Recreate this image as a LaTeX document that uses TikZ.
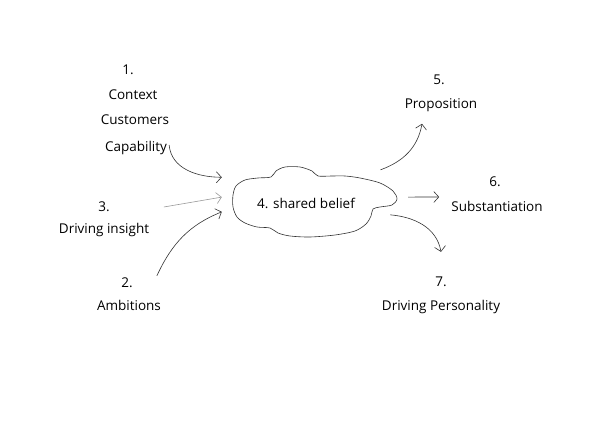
\documentclass[tikz,border=0pt]{standalone}
\usepackage{fontspec}
\setmainfont{Open Sans}
\usetikzlibrary{arrows.meta}
\begin{document}
\begin{tikzpicture}[x=1pt, y=1pt,
    every node/.style={font=\fontsize{13.5}{15}\selectfont, inner sep=2pt},
    conn/.style={black!80, line width=0.6pt, -{Straight Barb[length=5pt, width=11pt]}},
    faint/.style={conn, black!40}]
  \useasboundingbox (0,0) rectangle (600,425);
  % --- 左侧: 输入 ---
  \node (n1) at (128,355) {1.};
  \node (context) at (133,330) {Context};
  \node (customers) at (135,305) {Customers};
  \node (capability) at (136,277) {Capability};
  \node (n3) at (104,218) {3.};
  \node (insight) at (104,195) {Driving insight};
  \node (n2) at (127,142) {2.};
  \node (ambitions) at (129,120) {Ambitions};
  % --- 中间: 云 ---
  \node[minimum width=168pt, minimum height=66pt] (belief) at (306,222) {4. shared belief};
  \draw[black!80, line width=0.6pt, tension=0.5] plot[smooth cycle] coordinates {
    (233,230) (236,239) (245,245) (258,247) (271,248) (276,254) (285,258) (300,258)
    (312,254) (318,249) (332,249) (345,249) (360,247) (380,242) (393,234) (397,226)
    (392,220) (380,218) (373,216) (371,209) (366,201) (355,194) (335,190) (310,188)
    (290,189) (278,192) (270,197) (257,198) (245,202) (237,208) (233,218)};
  % --- 右侧: 输出 ---
  \node (n5) at (439,345) {5.};
  \node (proposition) at (441,320) {Proposition};
  \node (n6) at (495,243) {6.};
  \node (substantiation) at (497,219) {Substantiation};
  \node (n7) at (441,143) {7.};
  \node (personality) at (441,118) {Driving Personality};
  % 箭头
  \draw[conn] ([yshift=3pt]capability.east) to[out=-85, in=180] (belief.163);
  \draw[faint] ([xshift=52pt]n3.east) -- (belief.176);
  \draw[conn] ([xshift=22pt]n2.north east) to[out=65, in=202] (belief.186);
  \draw[conn] (belief.24) to[out=20, in=-100] ([xshift=-19pt, yshift=-10pt]proposition.south);
  \draw[conn, shorten <=18pt] (belief.4) -- ([xshift=-10pt, yshift=9pt]substantiation.west);
  \draw[conn] (belief.-8) to[out=-5, in=100] ([yshift=23pt]n7.north);
\end{tikzpicture}
\end{document}
